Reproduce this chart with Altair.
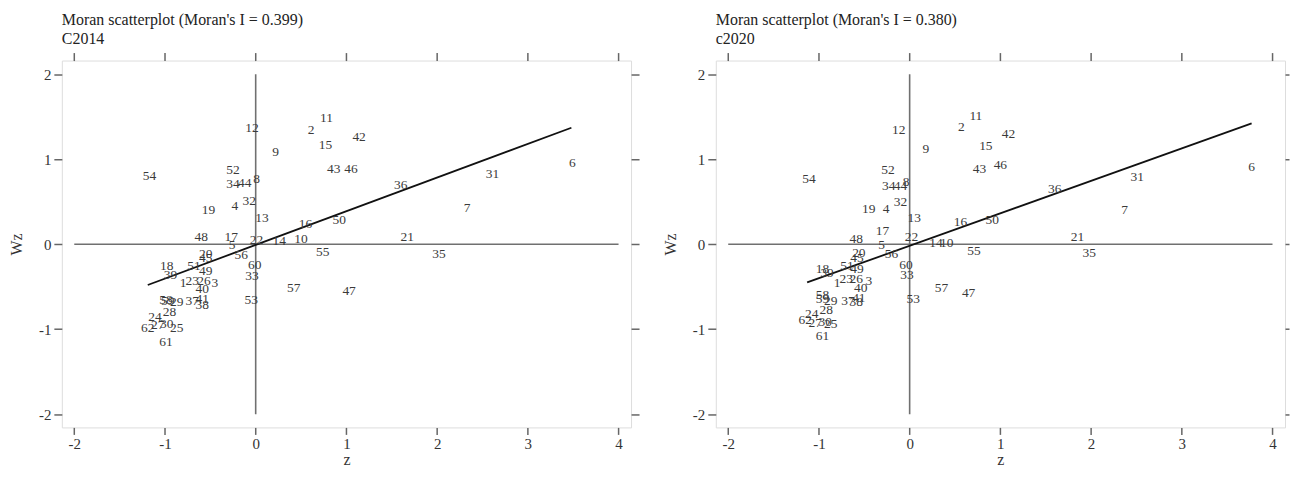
import altair as alt
import pandas as pd

SERIF = "Liberation Serif"

labels = [str(i) for i in range(1, 63)]

z_2014 = [-0.80, 0.61, -0.45, -0.23, -0.26, 3.49, 2.33, 0.01, 0.22, 0.50,
          0.78, -0.04, 0.07, 0.26, 0.77, 0.55, -0.27, -0.98, -0.52, -0.55,
          1.67, 0.01, -0.70, -1.11, -0.87, -0.57, -1.08, -0.95, -0.87, -0.98,
          2.61, -0.07, -0.04, -0.25, 2.02, 1.60, -0.70, -0.59, -0.94, -0.59,
          -0.59, 1.14, 0.86, -0.12, -0.55, 1.05, 1.03, -0.60, -0.55, 0.92,
          -0.68, -0.25, -0.05, -1.17, 0.74, -0.16, 0.42, -0.99, -0.97, -0.01,
          -0.99, -1.19]
wz_2014 = [-0.46, 1.34, -0.46, 0.45, -0.01, 0.95, 0.43, 0.77, 1.08, 0.06,
           1.48, 1.37, 0.31, 0.04, 1.17, 0.24, 0.09, -0.26, 0.40, -0.11,
           0.08, 0.05, -0.43, -0.86, -0.99, -0.43, -0.95, -0.80, -0.68, -0.94,
           0.82, 0.51, -0.37, 0.71, -0.12, 0.70, -0.67, -0.71, -0.36, -0.53,
           -0.64, 1.26, 0.89, 0.72, -0.16, 0.88, -0.55, 0.09, -0.31, 0.29,
           -0.26, 0.87, -0.66, 0.80, -0.09, -0.13, -0.52, -0.66, -0.67, -0.24,
           -1.15, -0.98]

z_2020 = [-0.80, 0.57, -0.45, -0.26, -0.31, 3.77, 2.37, -0.04, 0.18, 0.41,
          0.73, -0.12, 0.05, 0.29, 0.84, 0.56, -0.30, -0.96, -0.45, -0.56,
          1.85, 0.02, -0.70, -1.08, -0.87, -0.59, -1.04, -0.92, -0.87, -0.93,
          2.51, -0.10, -0.03, -0.23, 1.98, 1.60, -0.68, -0.59, -0.91, -0.54,
          -0.56, 1.09, 0.77, -0.10, -0.58, 1.00, 0.65, -0.59, -0.58, 0.91,
          -0.69, -0.24, 0.04, -1.11, 0.71, -0.20, 0.35, -0.96, -0.96, -0.04,
          -0.96, -1.15]
wz_2020 = [-0.46, 1.38, -0.43, 0.41, -0.01, 0.91, 0.40, 0.73, 1.12, 0.01,
           1.51, 1.34, 0.31, 0.01, 1.15, 0.26, 0.15, -0.29, 0.41, -0.10,
           0.08, 0.09, -0.41, -0.82, -0.94, -0.41, -0.93, -0.78, -0.67, -0.91,
           0.79, 0.50, -0.36, 0.68, -0.10, 0.65, -0.67, -0.68, -0.34, -0.52,
           -0.63, 1.30, 0.88, 0.68, -0.16, 0.93, -0.58, 0.06, -0.29, 0.29,
           -0.26, 0.87, -0.65, 0.77, -0.08, -0.12, -0.52, -0.60, -0.64, -0.25,
           -1.08, -0.89]

fit_z_2014 = [-1.19, 3.48]
fit_wz_2014 = [-0.48, 1.37]
fit_z_2020 = [-1.13, 3.77]
fit_wz_2020 = [-0.45, 1.42]

hline_z = [-2, 4]
vline_wz = [-2, 2]

x_ticks = [-2, -1, 0, 1, 2, 3, 4]
y_ticks = [-2, -1, 0, 1, 2]

X_DOMAIN = [-2.137, 4.138]
Y_DOMAIN = [-2.155, 2.16]

TICK_COLOR = "#666"
LABEL_EXPR = "'' + datum.value"


def panel(z, wz, fz, fwz, title, subtitle, right_tick):
    pts = pd.DataFrame({"z": z, "wz": wz, "lab": labels})
    fit = pd.DataFrame({"z": fz, "wz": fwz})
    hl = pd.DataFrame({"x": [hline_z[0]], "x2": [hline_z[1]], "y": [0]})
    vl = pd.DataFrame({"x": [0], "y": [vline_wz[0]], "y2": [vline_wz[1]]})

    xs = alt.Scale(domain=X_DOMAIN, nice=False, zero=False)
    ys = alt.Scale(domain=Y_DOMAIN, nice=False, zero=False)

    common = dict(domain=False, grid=False, tickColor=TICK_COLOR,
                  tickWidth=1.5, labelFont=SERIF, labelFontSize=15,
                  labelColor="#333", titleFont=SERIF, titleFontSize=16,
                  titleColor="#333", titleFontWeight="normal",
                  labelExpr=LABEL_EXPR)

    xaxis = alt.Axis(values=x_ticks, title="z", orient="bottom", tickSize=7,
                     labelPadding=2, titlePadding=0, **common)
    yaxis = alt.Axis(values=y_ticks, title="Wz", orient="left", tickSize=8,
                     labelPadding=3, titlePadding=13.5, labelAngle=0, **common)
    xtop = alt.Axis(values=x_ticks, title=None, orient="top", labels=False,
                    domain=False, grid=False, tickSize=8, tickColor=TICK_COLOR,
                    tickWidth=1.5)
    yright = alt.Axis(values=y_ticks, title=None, orient="right", labels=False,
                      domain=False, grid=False, tickSize=right_tick,
                      tickColor=TICK_COLOR, tickWidth=1.5)

    text = alt.Chart(pts).mark_text(font=SERIF, fontSize=13.5, color="#3a3a3a").encode(
        x=alt.X("z:Q", scale=xs, axis=xaxis),
        y=alt.Y("wz:Q", scale=ys, axis=yaxis),
        text="lab:N",
    )
    hrule = alt.Chart(hl).mark_rule(color="#707070", strokeWidth=1.6).encode(
        x=alt.X("x:Q", scale=xs, axis=xtop),
        x2="x2:Q",
        y=alt.Y("y:Q", scale=ys, axis=yright),
    )
    vrule = alt.Chart(vl).mark_rule(color="#707070", strokeWidth=1.6).encode(
        x=alt.X("x:Q", scale=xs, axis=None),
        y=alt.Y("y:Q", scale=ys, axis=None),
        y2="y2:Q",
    )
    line = alt.Chart(fit).mark_line(color="#111", strokeWidth=1.8).encode(
        x=alt.X("z:Q", scale=xs, axis=None),
        y=alt.Y("wz:Q", scale=ys, axis=None),
    )
    return alt.layer(hrule, vrule, line, text).resolve_axis(
        x="independent", y="independent"
    ).properties(
        width=571, height=368,
        title=alt.TitleParams(
            text=title, subtitle=subtitle, anchor="start", frame="group",
            font=SERIF, fontSize=16, fontWeight="normal", color="#222",
            subtitleFont=SERIF, subtitleFontSize=16, subtitleColor="#222",
            subtitlePadding=3, offset=5,
        ),
    )


left = panel(z_2014, wz_2014, fit_z_2014, fit_wz_2014,
             "Moran scatterplot (Moran's I = 0.399)", "C2014", 8)
right = panel(z_2020, wz_2020, fit_z_2020, fit_wz_2020,
              "Moran scatterplot (Moran's I = 0.380)", "c2020", 4)

chart = alt.hconcat(left, right, spacing=21).properties(
    padding={"left": 0, "top": 2, "right": 0, "bottom": 0}
).configure_view(stroke="#666", strokeWidth=1.5).configure(background="white")

chart.save("out.html", embed_options={"renderer": "svg", "actions": False})
